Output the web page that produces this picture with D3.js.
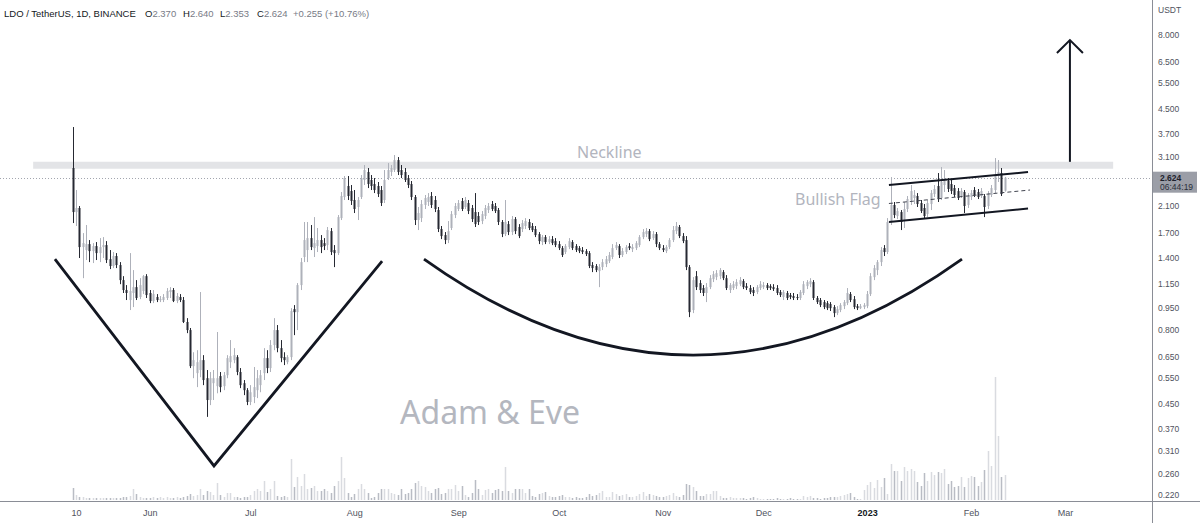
<!DOCTYPE html>
<html>
<head>
<meta charset="utf-8">
<title>LDO / TetherUS 1D</title>
<script src="https://cdn.jsdelivr.net/npm/d3@7/dist/d3.min.js"></script>
<style>
  body { margin: 0; background: #fff; }
  svg { display: block; font-family: "Liberation Sans", Arial, sans-serif; }
</style>
</head>
<body>
<svg id="chart" width="1200" height="523"></svg>
<script>
// daily candles, the first one is 2022-05-09
var startDay = "2022-05-09";

var opens = [
  2.830,2.006,2.071,1.526,1.491,1.562,1.479,1.538,1.456,1.526,
  1.550,1.389,1.316,1.423,1.326,1.179,1.091,1.009,1.066,1.116,
  1.033,1.083,1.216,1.066,1.001,1.033,1.009,1.009,1.025,1.074,
  1.091,1.001,1.033,1.009,0.850,0.798,0.602,0.570,0.584,0.631,
  0.548,0.462,0.527,0.515,0.557,0.515,0.561,0.621,0.631,0.646,
  0.575,0.527,0.499,0.455,0.473,0.499,0.519,0.570,0.641,0.593,
  0.710,0.798,0.693,0.646,0.621,0.646,0.940,0.918,1.134,1.412,
  1.491,1.637,1.514,1.538,1.612,1.574,1.550,1.729,1.491,1.456,
  1.914,2.256,2.459,2.364,2.204,2.087,2.256,2.577,2.743,2.577,
  2.497,2.459,2.383,2.204,2.617,2.743,2.786,3.012,2.786,2.743,
  2.617,2.497,2.256,1.885,1.914,2.120,2.170,2.274,2.204,2.038,
  1.757,1.676,1.612,1.771,1.960,2.054,2.187,2.087,2.153,2.071,
  2.006,1.945,1.870,1.945,2.038,2.136,2.103,2.038,1.856,1.689,
  1.826,1.716,1.899,1.785,1.757,1.799,1.856,1.799,1.757,1.689,
  1.587,1.650,1.587,1.624,1.599,1.562,1.514,1.468,1.526,1.587,
  1.538,1.514,1.491,1.479,1.456,1.326,1.316,1.265,1.305,1.336,
  1.368,1.412,1.514,1.538,1.434,1.468,1.538,1.502,1.514,1.550,
  1.650,1.689,1.729,1.637,1.689,1.562,1.514,1.479,1.526,1.612,
  1.729,1.785,1.663,1.612,1.305,0.933,1.216,1.152,1.108,1.066,
  1.116,1.188,1.207,1.216,1.255,1.197,1.091,1.108,1.125,1.142,
  1.170,1.125,1.108,1.091,1.074,1.108,1.116,1.134,1.125,1.116,
  1.108,1.074,1.033,1.066,1.049,1.041,1.033,1.025,1.066,1.125,
  1.142,1.161,1.025,1.009,0.993,0.985,0.978,0.955,0.911,0.933,
  0.962,0.985,1.057,1.016,0.962,0.947,0.955,0.962,1.057,1.207,
  1.275,1.357,1.514,1.468,1.856,2.120,1.945,2.006,1.885,2.054,
  2.204,2.239,2.274,2.153,2.071,1.975,2.136,2.309,2.459,2.239,
  2.478,2.557,2.497,2.420,2.364,2.274,2.346,2.120,2.256,2.383,
  2.346,2.274,2.274,2.103,2.292,2.383,2.658,2.721,2.370
];

var highs = [
  3.898,2.383,2.103,1.702,1.813,1.612,1.574,1.587,1.637,1.650,
  1.599,1.491,1.468,1.456,1.357,1.216,1.134,1.456,1.275,1.179,
  1.197,1.226,1.235,1.091,1.091,1.057,1.041,1.057,1.108,1.116,
  1.108,1.066,1.057,1.033,0.876,0.811,0.671,0.682,1.074,0.656,
  0.584,0.575,0.584,0.786,0.575,0.575,0.656,0.738,0.693,0.656,
  0.593,0.540,0.507,0.519,0.598,0.584,0.584,0.693,0.682,0.738,
  0.876,0.830,0.738,0.671,0.656,0.947,0.970,1.152,1.401,1.856,
  1.856,1.813,1.929,1.771,1.676,1.637,1.785,1.771,1.550,1.960,
  2.346,2.658,2.658,2.478,2.383,2.256,2.679,2.897,2.830,2.679,
  2.617,2.537,2.459,2.786,2.942,2.897,3.132,3.083,2.897,2.830,
  2.679,2.557,2.292,2.087,2.204,2.292,2.327,2.346,2.274,2.087,
  1.799,1.716,1.870,2.022,2.153,2.204,2.239,2.256,2.204,2.120,
  2.327,2.006,2.022,2.120,2.153,2.187,2.153,2.071,1.885,2.204,
  1.870,1.945,1.929,1.826,1.885,1.914,1.899,1.841,1.799,1.716,
  1.676,1.676,1.663,1.663,1.637,1.599,1.538,1.562,1.637,1.612,
  1.562,1.538,1.526,1.502,1.479,1.357,1.336,1.336,1.389,1.423,
  1.468,1.562,1.587,1.562,1.514,1.550,1.574,1.562,1.599,1.676,
  1.757,1.771,1.757,1.729,1.716,1.587,1.550,1.550,1.637,1.799,
  1.856,1.813,1.702,1.663,1.326,1.207,1.265,1.179,1.134,1.152,
  1.226,1.265,1.275,1.295,1.275,1.226,1.152,1.170,1.188,1.207,
  1.188,1.152,1.134,1.116,1.134,1.170,1.161,1.152,1.142,1.142,
  1.134,1.091,1.091,1.083,1.066,1.066,1.057,1.091,1.170,1.179,
  1.197,1.179,1.041,1.025,1.009,1.001,0.993,0.970,0.962,0.985,
  1.009,1.108,1.074,1.041,0.978,0.978,0.985,1.083,1.245,1.326,
  1.379,1.526,1.550,1.914,2.637,2.170,2.071,2.038,2.170,2.274,
  2.478,2.383,2.327,2.204,2.136,2.204,2.383,2.478,2.721,2.852,
  2.786,2.617,2.577,2.478,2.420,2.420,2.383,2.327,2.383,2.439,
  2.402,2.420,2.309,2.364,2.478,3.059,3.012,2.830,2.640
];

var lows = [
  1.841,1.799,1.401,1.197,1.379,1.357,1.347,1.379,1.357,1.401,
  1.347,1.285,1.295,1.295,1.142,1.066,1.009,0.933,0.955,1.009,
  1.016,1.057,1.025,0.985,0.985,0.993,0.993,0.993,1.009,1.025,
  0.993,0.985,0.993,0.843,0.779,0.593,0.548,0.511,0.552,0.519,
  0.405,0.444,0.462,0.487,0.491,0.499,0.548,0.593,0.616,0.561,
  0.507,0.480,0.444,0.444,0.451,0.469,0.491,0.540,0.570,0.575,
  0.682,0.671,0.621,0.607,0.611,0.631,0.767,0.798,1.091,1.357,
  1.357,1.491,1.412,1.468,1.456,1.491,1.491,1.434,1.305,1.434,
  1.885,2.204,2.204,2.120,1.991,1.885,2.221,2.478,2.420,2.383,
  2.327,2.256,2.103,2.153,2.577,2.658,2.743,2.679,2.617,2.537,
  2.420,2.204,1.813,1.743,1.856,2.054,2.103,2.071,2.006,1.716,
  1.624,1.562,1.574,1.743,1.914,2.022,2.022,2.054,1.975,1.856,
  1.785,1.813,1.826,1.899,1.991,2.022,1.991,1.813,1.650,1.663,
  1.676,1.676,1.689,1.637,1.716,1.757,1.743,1.716,1.650,1.562,
  1.550,1.562,1.562,1.550,1.526,1.491,1.412,1.445,1.502,1.491,
  1.468,1.456,1.445,1.423,1.295,1.255,1.255,1.116,1.275,1.305,
  1.347,1.389,1.491,1.401,1.412,1.445,1.491,1.468,1.491,1.526,
  1.624,1.650,1.599,1.612,1.526,1.491,1.468,1.456,1.502,1.587,
  1.689,1.637,1.574,1.275,0.883,0.911,1.091,1.066,1.041,0.993,
  1.099,1.161,1.179,1.188,1.179,1.091,1.066,1.091,1.099,1.125,
  1.099,1.091,1.057,1.041,1.057,1.091,1.099,1.091,1.091,1.083,
  1.049,1.033,1.009,1.009,1.016,1.009,1.009,1.009,1.049,1.099,
  1.116,1.009,0.978,0.955,0.940,0.933,0.926,0.883,0.897,0.918,
  0.940,0.970,0.993,0.940,0.933,0.940,0.940,0.947,1.041,1.179,
  1.226,1.316,1.423,1.445,1.813,1.914,1.899,1.743,1.771,2.006,
  2.120,2.136,2.087,1.991,1.914,1.929,2.038,2.256,2.170,2.204,
  2.346,2.346,2.309,2.256,2.204,2.239,1.991,2.071,2.204,2.256,
  2.221,2.239,1.929,2.054,2.256,2.327,2.537,2.274,2.353
];

var closes = [
  2.006,2.071,1.526,1.574,1.562,1.479,1.538,1.456,1.526,1.550,
  1.379,1.316,1.423,1.326,1.179,1.091,1.066,1.083,1.116,1.025,
  1.134,1.216,1.049,1.001,1.057,1.009,1.016,1.033,1.083,1.091,
  1.001,1.041,1.009,0.850,0.798,0.602,0.631,0.621,0.631,0.540,
  0.462,0.548,0.548,0.548,0.511,0.561,0.641,0.651,0.656,0.575,
  0.519,0.499,0.455,0.491,0.511,0.548,0.561,0.641,0.593,0.710,
  0.798,0.693,0.641,0.631,0.646,0.926,0.918,1.134,1.357,1.612,
  1.637,1.526,1.574,1.612,1.526,1.538,1.743,1.468,1.456,1.929,
  2.274,2.617,2.274,2.187,2.054,2.204,2.617,2.786,2.497,2.459,
  2.383,2.309,2.153,2.577,2.786,2.830,3.012,2.743,2.679,2.577,
  2.478,2.256,1.885,1.991,2.136,2.239,2.256,2.120,2.054,1.757,
  1.663,1.612,1.729,1.975,2.103,2.153,2.054,2.204,2.022,1.899,
  1.826,1.856,1.975,2.071,2.103,2.054,2.022,1.856,1.689,1.856,
  1.716,1.899,1.729,1.663,1.841,1.870,1.771,1.743,1.676,1.599,
  1.650,1.587,1.624,1.574,1.550,1.514,1.434,1.538,1.599,1.514,
  1.491,1.479,1.468,1.445,1.316,1.295,1.275,1.305,1.357,1.389,
  1.434,1.514,1.550,1.434,1.479,1.526,1.514,1.526,1.574,1.650,
  1.716,1.729,1.624,1.689,1.562,1.514,1.491,1.526,1.612,1.743,
  1.799,1.663,1.599,1.305,0.918,1.179,1.116,1.091,1.066,1.116,
  1.197,1.235,1.245,1.275,1.197,1.108,1.134,1.142,1.161,1.179,
  1.116,1.108,1.074,1.066,1.116,1.142,1.134,1.108,1.108,1.099,
  1.066,1.049,1.074,1.025,1.033,1.025,1.025,1.074,1.142,1.161,
  1.170,1.025,0.993,0.970,0.955,0.947,0.947,0.911,0.940,0.970,
  0.993,1.066,1.009,0.955,0.947,0.962,0.970,1.057,1.216,1.295,
  1.357,1.491,1.468,1.856,2.120,1.960,2.022,1.856,2.054,2.221,
  2.364,2.292,2.136,2.022,1.945,2.153,2.327,2.402,2.221,2.537,
  2.557,2.402,2.364,2.292,2.239,2.364,2.103,2.274,2.327,2.292,
  2.256,2.364,2.087,2.309,2.420,2.679,2.743,2.309,2.624
];

// volume, in 100k LDO
var volumes = [
  12,5,3,3,2,2,2,2,2,2,
  2,2,2,2,2,3,3,4,11,6,
  3,2,2,2,3,2,3,2,3,2,
  2,3,2,3,4,6,4,5,11,5,
  9,8,5,17,5,3,7,7,3,3,
  2,3,3,5,9,11,9,19,8,11,
  19,4,3,4,3,41,13,23,14,26,
  11,12,14,9,9,11,9,7,14,19,
  43,22,7,3,6,11,16,11,7,2,
  3,7,11,11,11,7,6,5,11,6,
  7,11,17,19,14,13,9,7,11,12,
  6,7,11,11,15,9,14,5,3,7,
  20,11,5,10,11,7,10,11,9,33,
  9,7,11,11,11,7,11,4,3,6,
  7,8,4,3,3,4,5,3,3,2,
  3,2,2,3,6,4,5,7,9,3,
  3,8,6,4,5,6,3,3,4,6,
  8,4,6,5,4,3,3,4,5,7,
  4,3,5,16,15,13,9,4,4,6,
  6,9,9,4,2,2,3,2,2,2,
  2,1,2,3,2,1,1,1,1,1,
  2,1,1,1,2,1,1,1,4,3,
  4,2,2,1,2,2,3,3,3,4,
  5,6,7,3,1,1,10,15,18,12,
  20,13,22,6,36,29,29,19,33,29,
  31,29,18,14,27,19,28,25,28,27,
  31,16,19,13,14,23,13,22,24,23,
  14,18,30,49,34,123,64,23,25
];

var priceTicks = [8, 6.5, 5.5, 4.5, 3.7, 3.1, 2.1, 1.7, 1.4, 1.15, 0.95, 0.8, 0.65, 0.55, 0.45, 0.37, 0.31, 0.26, 0.22];
var timeTicks = ["2022-05-10", "2022-06-01", "2022-07-01", "2022-08-01", "2022-09-01", "2022-10-01",
                 "2022-11-01", "2022-12-01", "2023-01-01", "2023-02-01", "2023-03-01"];
var timeLabels = ["10", "Jun", "Jul", "Aug", "Sep", "Oct", "Nov", "Dec", "2023", "Feb", "Mar"];

var lastPrice = 2.624;

// drawings: [day index from start, price]
var vPattern = [[-5.3, 1.390], [42.15, 0.276], [92.3, 1.368]];
var cupStart = [104.8, 1.39], cupCtrl = [185.1, 0.310], cupEnd = [265.3, 1.39];
var flagTop = [[243.5, 2.478], [285.0, 2.743]];
var flagBottom = [[243.5, 1.856], [285.0, 2.062]];
var flagMid = [[243.5, 2.145], [285.6, 2.383]];
var neckline = [[-11.8, 2.89], [310.4, 2.89]];
var arrowLine = [[297.5, 2.97], [297.5, 7.69]];

var svg = d3.select("#chart");
var parseDay = d3.utcParse("%Y-%m-%d");
var day0 = parseDay(startDay);
function dayAt(i) { return new Date(day0.getTime() + i * 864e5); }

var x = d3.scaleUtc().domain([day0, parseDay("2023-03-01")]).range([72.7, 1064.9]);
var y = d3.scaleLog().domain([0.22, 8]).range([495, 35]);
var yVol = d3.scaleLinear().domain([0, 123]).range([500, 377]);

var n = d3.min([opens.length, highs.length, lows.length, closes.length, volumes.length]);
var candles = d3.range(n).map(function(i) {
  return { date: dayAt(i), o: opens[i], h: highs[i], l: lows[i], c: closes[i], v: volumes[i] };
});

var upColor = "#aeb1ba", downColor = "#262932";
var volUp = "#d9dbe0", volDown = "#b9bcc4";

function px(p) { return x(dayAt(p[0])); }
function py(p) { return y(p[1]); }

// volume
svg.append("g").selectAll("rect").data(candles).enter().append("rect")
  .attr("x", function(d) { return Math.round(x(d.date)) - 0.25; })
  .attr("width", 1.5)
  .attr("y", function(d) { return yVol(d.v); })
  .attr("height", function(d) { return yVol(0) - yVol(d.v); })
  .attr("fill", function(d) { return d.c >= d.o ? volUp : volDown; });

// neckline band
svg.append("line")
  .attr("x1", px(neckline[0])).attr("y1", py(neckline[0]))
  .attr("x2", px(neckline[1])).attr("y2", py(neckline[1]))
  .attr("stroke", "#e3e4e7").attr("stroke-width", 7);

// last price line
svg.append("line")
  .attr("x1", 0).attr("x2", 1152)
  .attr("y1", Math.round(y(lastPrice)) + 0.5).attr("y2", Math.round(y(lastPrice)) + 0.5)
  .attr("stroke", "#a3a6af").attr("stroke-dasharray", "1,2");

// candles
var cg = svg.append("g").selectAll("g").data(candles).enter().append("g");
cg.append("line")
  .attr("x1", function(d) { return Math.round(x(d.date)) + 0.5; })
  .attr("x2", function(d) { return Math.round(x(d.date)) + 0.5; })
  .attr("y1", function(d) { return y(d.h); })
  .attr("y2", function(d) { return y(d.l); })
  .attr("stroke", function(d) { return d.c >= d.o ? upColor : downColor; });
cg.append("rect")
  .attr("x", function(d) { return Math.round(x(d.date)) - 0.5; })
  .attr("width", 2)
  .attr("y", function(d) { return Math.min(y(d.o), y(d.c)); })
  .attr("height", function(d) { return Math.max(1, Math.abs(y(d.o) - y(d.c))); })
  .attr("fill", function(d) { return d.c >= d.o ? upColor : downColor; });

// drawings
var ink = "#131722";
var line = d3.line().x(px).y(py);
svg.append("path").attr("d", line(vPattern))
  .attr("fill", "none").attr("stroke", ink).attr("stroke-width", 2.8).attr("stroke-linejoin", "miter");

var cup = d3.path();
cup.moveTo(px(cupStart), py(cupStart));
cup.quadraticCurveTo(px(cupCtrl), py(cupCtrl), px(cupEnd), py(cupEnd));
svg.append("path").attr("d", cup.toString())
  .attr("fill", "none").attr("stroke", ink).attr("stroke-width", 2.8);

svg.append("path").attr("d", line(flagTop)).attr("stroke", ink).attr("stroke-width", 2);
svg.append("path").attr("d", line(flagBottom)).attr("stroke", ink).attr("stroke-width", 2);
svg.append("path").attr("d", line(flagMid)).attr("stroke", "#434651")
  .attr("stroke-width", 1).attr("stroke-dasharray", "4,3");

var tipX = px(arrowLine[1]), tipY = py(arrowLine[1]);
svg.append("path").attr("d", line(arrowLine)).attr("stroke", ink).attr("stroke-width", 2);
svg.append("path")
  .attr("d", "M" + (tipX - 13) + "," + (tipY + 13) + "L" + tipX + "," + tipY + "L" + (tipX + 13) + "," + (tipY + 13))
  .attr("fill", "none").attr("stroke", ink).attr("stroke-width", 2);

// labels on the chart
svg.append("text").attr("x", 577).attr("y", 157.5).text("Neckline")
  .attr("font-family", "Noto Sans").attr("font-size", 16).attr("fill", "#b2b5be");
svg.append("text").attr("x", 795).attr("y", 204.5).text("Bullish Flag")
  .attr("font-family", "Noto Sans").attr("font-size", 16).attr("fill", "#b2b5be");
svg.append("text").attr("x", 400).attr("y", 424).text("Adam & Eve")
  .attr("font-family", "Noto Sans").attr("font-size", 32).attr("fill", "#b4b7bf");

// header
var head = svg.append("g").attr("font-size", 9.5);
head.append("text").attr("x", 4).attr("y", 17).attr("fill", ink).text("LDO / TetherUS, 1D, BINANCE");
[["O", "2.370", 145], ["H", "2.640", 183], ["L", "2.353", 220], ["C", "2.624", 257]].forEach(function(p) {
  var t = head.append("text").attr("x", p[2]).attr("y", 17);
  t.append("tspan").attr("fill", ink).text(p[0]);
  t.append("tspan").attr("fill", "#787b86").text(p[1]);
});
head.append("text").attr("x", 293).attr("y", 17).attr("fill", "#787b86").text("+0.255 (+10.76%)");

// price axis
var yAxis = d3.axisRight(y).tickValues(priceTicks).tickSize(0).tickPadding(6)
  .tickFormat(d3.format(".3f"));
var ya = svg.append("g").attr("transform", "translate(1152,0)").call(yAxis);
ya.select(".domain").remove();
ya.selectAll("text").attr("font-size", 8.5).attr("fill", "#50535e")
  .attr("font-family", "Liberation Sans, Arial, sans-serif");
svg.append("text").attr("x", 1158).attr("y", 13).text("USDT")
  .attr("font-size", 8.5).attr("fill", "#50535e");

// time axis
var xAxis = d3.axisBottom(x).tickValues(timeTicks.map(parseDay)).tickSize(0).tickPadding(9)
  .tickFormat(function(d, i) { return timeLabels[i]; });
var xa = svg.append("g").attr("transform", "translate(0,501)").call(xAxis);
xa.select(".domain").remove();
xa.selectAll("text").attr("font-size", 9)
  .attr("font-family", "Liberation Sans, Arial, sans-serif")
  .attr("font-weight", function(d, i) { return timeLabels[i] === "2023" ? "bold" : null; })
  .attr("fill", function(d, i) { return timeLabels[i] === "2023" ? ink : "#50535e"; });

// frame lines
svg.append("line").attr("x1", 1152.5).attr("x2", 1152.5).attr("y1", 0).attr("y2", 523)
  .attr("stroke", "#8a8d96");
svg.append("line").attr("x1", 0).attr("x2", 1200).attr("y1", 501.5).attr("y2", 501.5)
  .attr("stroke", "#8a8d96");

// last price tag
var tagY = y(lastPrice);
svg.append("rect").attr("x", 1153).attr("y", tagY - 6).attr("width", 44).attr("height", 21)
  .attr("fill", "#9b9ea7");
svg.append("text").attr("x", 1160).attr("y", tagY + 3).text(d3.format(".3f")(lastPrice))
  .attr("font-size", 8.5).attr("font-weight", "bold").attr("fill", "#1e222d");
svg.append("text").attr("x", 1160).attr("y", tagY + 12.5).text("06:44:19")
  .attr("font-size", 8.5).attr("fill", "#2a2e39");
</script>
</body>
</html>
